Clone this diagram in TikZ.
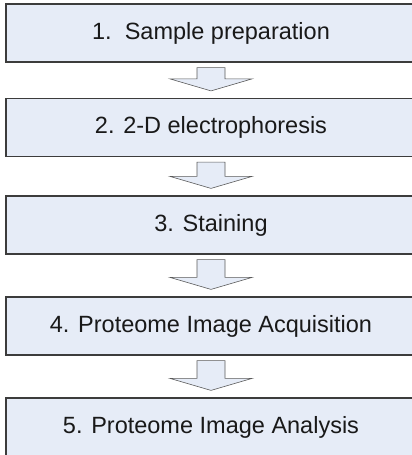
\documentclass[tikz,border=0pt]{standalone}
\usepackage{fontspec}
\setmainfont{Liberation Sans}
\usepackage{tikz}
\usetikzlibrary{calc}
\usepackage{xcolor}
\definecolor{boxfill}{RGB}{230,236,247}
\definecolor{boxline}{RGB}{60,60,60}
\definecolor{arrline}{RGB}{90,90,90}
% hollow block arrow from the bottom of one box to the top of the next
\newcommand{\flowarrow}[2]{%
  \draw[arr] ($(#1.south)+(-14,-5)$) -- ($(#1.south)+(14,-5)$)
    -- ($(#2.north)+(14,19)$) -- ($(#2.north)+(41,19)$)
    -- ($(#2.north)+(0,7)$)
    -- ($(#2.north)+(-41,19)$) -- ($(#2.north)+(-14,19)$) -- cycle;}

\begin{document}
\begin{tikzpicture}[x=1pt,y=1pt,
  stage/.style={draw=boxline,fill=boxfill,line width=1.2pt,
    minimum width=410pt,minimum height=58pt,inner sep=0pt,
    font=\fontsize{23.5}{28}\selectfont,text=black!90},
  arr/.style={draw=arrline,fill=boxfill,line width=0.6pt,line join=miter}]
\clip (0,0) rectangle (412,-455);
% steps
\node[stage] (s1) at (211,-33) {1.\ \ Sample preparation};
\node[stage] (s2) at (211,-127.5) {2. 2-D electrophoresis};
\node[stage] (s3) at (211,-225) {3. Staining};
\node[stage] (s4) at (211,-326) {4. Proteome Image Acquisition};
\node[stage] (s5) at (211,-427) {5. Proteome Image Analysis};
% arrows between steps
\flowarrow{s1}{s2}
\flowarrow{s2}{s3}
\flowarrow{s3}{s4}
\flowarrow{s4}{s5}
\end{tikzpicture}
\end{document}
